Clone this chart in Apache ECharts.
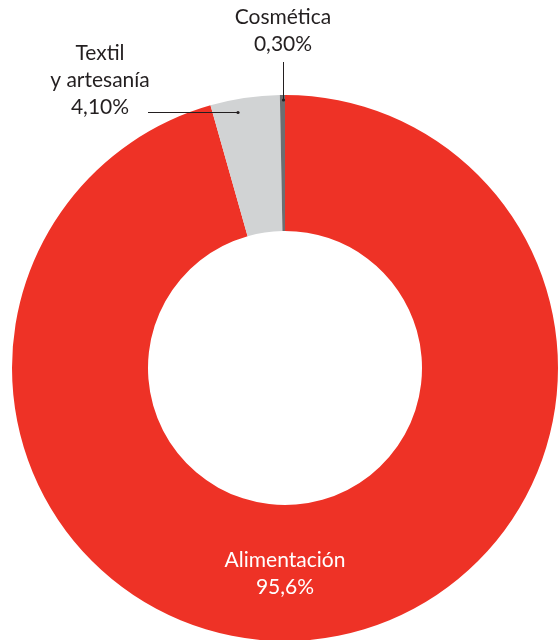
<!DOCTYPE html>
<html>
<head>
<meta charset="utf-8">
<script src="https://cdn.jsdelivr.net/npm/echarts@6/dist/echarts.min.js"></script>
<style>
  html, body { margin: 0; padding: 0; background: #fff; }
  #chart { width: 558px; height: 640px; }
</style>
</head>
<body>
<div id="chart"></div>
<script>
var categories = ["Alimentación", "Textil\ny artesanía", "Cosmética"];
var values = [95.6, 4.1, 0.3];
var valueLabels = ["95,6%", "4,10%", "0,30%"];
var colors = ["#EE3226", "#D1D3D4", "#6D6E71"];

// where the labels sit, and where their leader lines run
var labelSpots = {
  0: { x: 285, y: 574 },
  1: { x: 100, y: 80, line: [[238, 112.5], [148, 112.5]] },
  2: { x: 283, y: 31, line: [[283.5, 100], [283.5, 62]] }
};

var myChart = echarts.init(document.getElementById("chart"));

var data = categories.map(function(name, i) {
  return {
    name: name,
    value: values[i],
    itemStyle: { color: colors[i] },
    label: {
      position: i === 0 ? "inside" : "outside",
      color: i === 0 ? "#fff" : "#231F20"
    }
  };
});

// leader lines drawn on top of the ring, with a dot at the slice end
var guides = [];
[1, 2].forEach(function(k) {
  var pts = labelSpots[k].line;
  guides.push({
    type: "polyline",
    shape: { points: pts },
    style: { stroke: "#231F20", lineWidth: 1, fill: null },
    z: 100
  });
  guides.push({
    type: "circle",
    shape: { cx: pts[0][0], cy: pts[0][1], r: 1.6 },
    style: { fill: "#231F20" },
    z: 100
  });
});

myChart.setOption({
  animation: false,
  graphic: guides,
  series: [
    {
      type: "pie",
      center: [285, 368],
      radius: [137, 273],
      startAngle: 90,
      clockwise: true,
      avoidLabelOverlap: false,
      label: {
        show: true,
        fontFamily: "Lato",
        fontSize: 21,
        lineHeight: 27,
        align: "center",
        formatter: function(p) {
          return p.name + "\n" + valueLabels[p.dataIndex];
        }
      },
      labelLine: { show: false },
      labelLayout: function(params) {
        var spot = labelSpots[params.dataIndex];
        return {
          x: spot.x,
          y: spot.y,
          align: "center",
          verticalAlign: "middle"
        };
      },
      data: data
    }
  ]
});
</script>
</body>
</html>
